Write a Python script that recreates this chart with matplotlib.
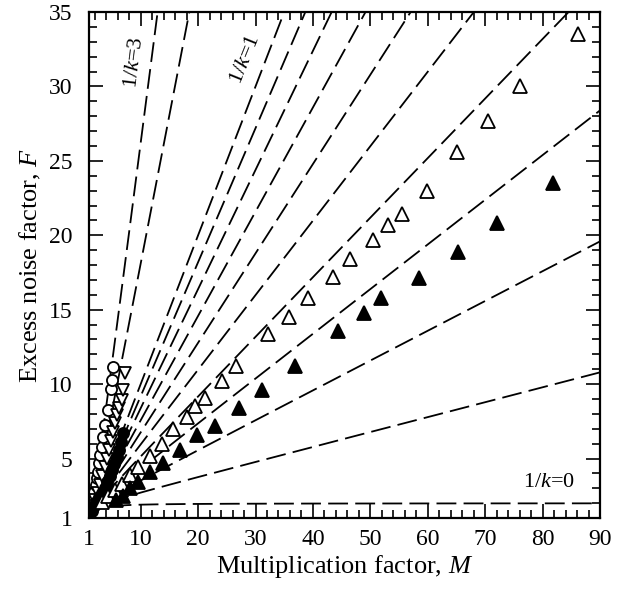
import numpy as np
import matplotlib
matplotlib.use("Agg")
import matplotlib.pyplot as plt
from matplotlib.ticker import MultipleLocator

# 字体: Times 风格
plt.rcParams['font.family'] = ['Liberation Serif', 'DejaVu Serif']
plt.rcParams['mathtext.fontset'] = 'custom'
plt.rcParams['mathtext.rm'] = 'Liberation Serif'
plt.rcParams['mathtext.it'] = 'Liberation Serif:italic'

# 理论曲线参数 1/k
inv_k = [0, 0.1, 0.2, 0.3, 0.4, 0.5, 0.6, 0.7, 0.8, 0.9, 1.0, 2.0, 3.0]

# 实验数据 (M, F)
open_circ_M = [1.17, 1.47, 1.75, 1.93, 2.16, 2.34, 2.51, 2.74, 2.92, 3.21, 3.5, 3.79, 4.25, 4.83, 5.06, 5.23]
open_circ_F = [1.53, 1.87, 2.32, 2.76, 3.21, 3.66, 4.1, 4.67, 5.23, 5.79, 6.46, 7.24, 8.25, 9.64, 10.27, 11.16]

fill_circ_M = [1.5, 1.9, 2.3, 2.8, 3.2, 3.7, 4.1, 4.6, 5.0, 5.4, 5.8, 6.2, 6.6, 7.0]
fill_circ_F = [1.5, 1.8, 2.1, 2.4, 2.7, 3.0, 3.4, 3.8, 4.2, 4.6, 5.1, 5.6, 6.1, 6.7]

down_tri_M = [1.3, 1.7, 2.1, 2.5, 2.9, 3.3, 3.7, 4.1, 4.5, 4.9, 5.2, 5.53, 5.83, 6.23, 6.69, 6.98, 7.27]
down_tri_F = [1.4, 1.8, 2.2, 2.7, 3.2, 3.8, 4.4, 5.0, 5.6, 6.2, 6.8, 7.36, 7.92, 8.37, 8.92, 9.6, 10.72]

up_open_M = [3.2, 4.3, 5.5, 6.7, 8.1, 9.6, 11.6, 13.7, 15.7, 18.0, 19.5, 21.2, 24.2, 26.6, 32.2, 35.8,
             39.2, 43.5, 46.5, 50.5, 53.1, 55.5, 59.9, 65.1, 70.5, 76.1, 86.2]
up_open_F = [2.1, 2.5, 2.9, 3.3, 3.9, 4.4, 5.2, 6.0, 7.0, 7.8, 8.5, 9.1, 10.2, 11.2, 13.4, 14.5,
             15.8, 17.2, 18.4, 19.7, 20.7, 21.4, 23.0, 25.6, 27.7, 30.0, 33.5]

up_fill_M = [5.7, 6.9, 8.1, 9.6, 11.6, 13.9, 16.9, 19.75, 23.0, 27.1, 31.1, 36.9, 44.4, 48.9, 51.8,
             58.5, 65.3, 72.1, 81.8]
up_fill_F = [2.2, 2.5, 3.0, 3.4, 4.1, 4.7, 5.6, 6.6, 7.2, 8.4, 9.6, 11.2, 13.6, 14.8, 15.8,
             17.1, 18.9, 20.8, 23.5]

fig = plt.figure(figsize=(6.29, 6.01), dpi=100)
ax = fig.add_axes([0.1415, 0.138, 0.8125, 0.842])

# McIntyre 曲线
M = np.linspace(1, 90, 2000)
for a in inv_k:
    F = a * M + (1 - a) * (2 - 1 / M)
    ax.plot(M, F, color='black', lw=1.3, dashes=(11, 4))

mk = dict(linestyle='none', markeredgecolor='black', markeredgewidth=1.3)
ax.plot(open_circ_M, open_circ_F, marker='o', ms=8, markerfacecolor='white', **mk)
ax.plot(down_tri_M, down_tri_F, marker='v', ms=9, markerfacecolor='white', **mk)
ax.plot(fill_circ_M, fill_circ_F, marker='o', ms=8, markerfacecolor='black', **mk)
ax.plot(up_open_M, up_open_F, marker='^', ms=9.5, markerfacecolor='white', **mk)
ax.plot(up_fill_M, up_fill_F, marker='^', ms=9.5, markerfacecolor='black', **mk)

ax.text(9.0, 31.6, '1/$k$=3', rotation=83, fontsize=16, ha='center', va='center')
ax.text(28.2, 31.8, '1/$k$=1', rotation=68, fontsize=16, ha='center', va='center')
ax.text(81.1, 3.4, '1/$k$=0', fontsize=16, ha='center', va='center')

ax.set_xlim(1, 90)
ax.set_ylim(1, 35)
ax.set_xticks([1, 10, 20, 30, 40, 50, 60, 70, 80, 90])
ax.set_yticks([1, 5, 10, 15, 20, 25, 30, 35])
ax.xaxis.set_minor_locator(MultipleLocator(2))
ax.yaxis.set_minor_locator(MultipleLocator(1))
ax.tick_params(which='both', direction='in', top=True, right=True, labelsize=17, width=1.2)
ax.tick_params(which='major', length=10)
ax.tick_params(axis='y', which='major', pad=12)
ax.tick_params(axis='x', which='major', pad=8)
ax.tick_params(which='minor', length=6)
for s in ax.spines.values():
    s.set_linewidth(1.6)

ax.set_xlabel('Multiplication factor, $M$', fontsize=19, labelpad=2)
ax.set_ylabel('Excess noise factor, $F$', fontsize=19, labelpad=4)

fig.savefig('out.png', dpi=100)
